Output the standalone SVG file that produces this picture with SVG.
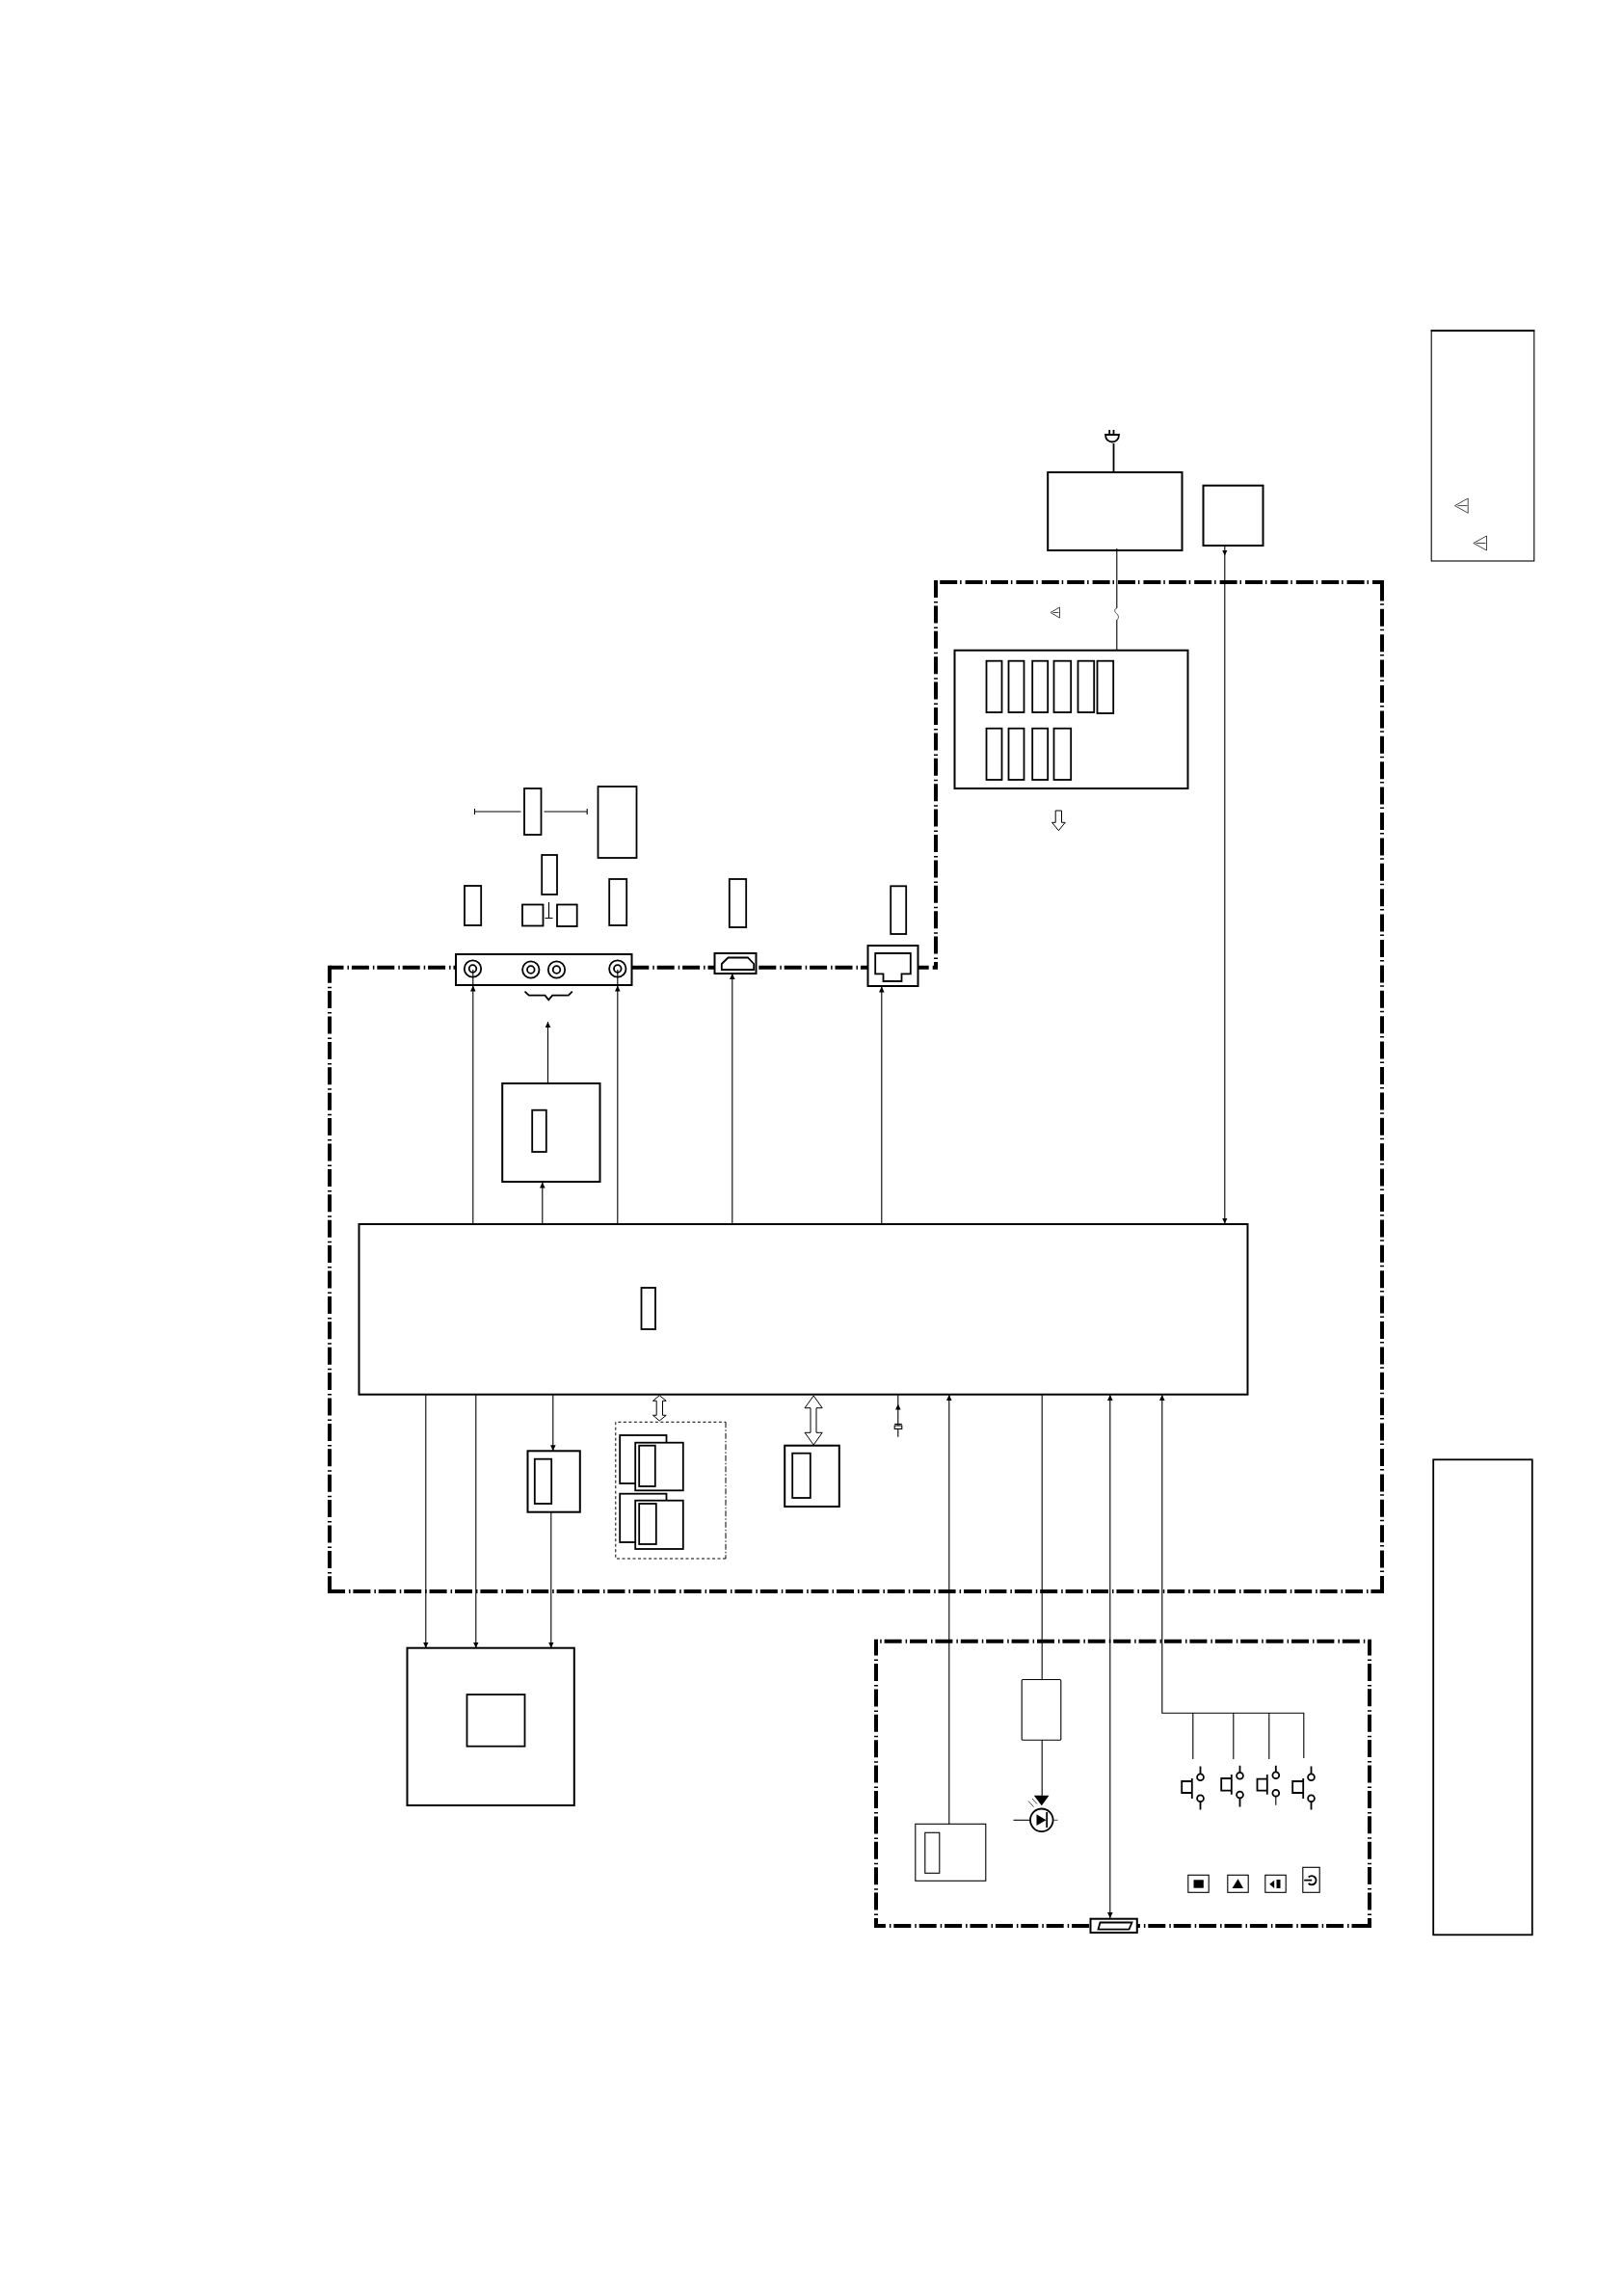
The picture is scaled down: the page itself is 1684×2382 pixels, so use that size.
<svg xmlns="http://www.w3.org/2000/svg" width="1684" height="2382" viewBox="0 0 1684 2382">
<style>
.b{fill:#fff;stroke:#000;stroke-width:2}
.s{fill:#fff;stroke:#000;stroke-width:1.8}
.t{fill:#fff;stroke:#000;stroke-width:1.1}
.n{fill:none;stroke:#000;stroke-width:1.8}
.f{fill:#000;stroke:none}
.h{fill:#fff;stroke:#000;stroke-width:1}
.d{fill:none;stroke:#000;stroke-width:4;stroke-dasharray:18 4 1.5 2.9}
.c{fill:none;stroke:#000;stroke-width:1.1}
.a{marker-end:url(#ah)}
.m{marker-mid:url(#ah)}
.g{fill:none;stroke:#333;stroke-width:.9}
</style>
<defs>
<marker id="ah" markerUnits="userSpaceOnUse" markerWidth="6" markerHeight="6" viewBox="0 0 6 6" refX="6" refY="3" orient="auto"><path d="M0,0.2 L6,3 L0,5.8z"/></marker>
<marker id="ar" markerUnits="userSpaceOnUse" markerWidth="6" markerHeight="6" viewBox="0 0 6 6" refX="0" refY="3" orient="auto"><path d="M6,0.2 L0,3 L6,5.8z"/></marker>
</defs>
<rect width="1684" height="2382" fill="#fff"/>
<g id="boundary-main">
<path class="d" d="M342,1003.7 H971" stroke-dashoffset="3.5"/>
<path class="d" d="M342,1001.7 V1651"/>
<path class="d" d="M340,1651 H1436"/>
<path class="d" d="M1434,1653 V604"/>
<path class="d" d="M1436,604 H971" stroke-dashoffset="6"/>
<path class="d" d="M971,602 V1005.7" stroke-dashoffset="0"/>
</g>
<g id="boundary-front">
<path class="d" d="M909,1702.7 H1423" stroke-dashoffset="17.8"/>
<path class="d" d="M909,1700.7 V2000" stroke-dashoffset="1.1"/>
<path class="d" d="M907,1998 H1423" stroke-dashoffset="6.1"/>
<path class="d" d="M1421,1702.7 V2000" stroke-dashoffset="3.2"/>
</g>
<g id="legend-top">
<rect class="t" x="1485.2" y="343" width="106.6" height="239"/>
<path d="M1484.7,343 H1592.3" stroke="#000" stroke-width="2" fill="none"/>
<path class="g" d="M1509.5,524.6 L1523.2,517 V532.3z M1512.5,524.6 H1522.5"/>
<path class="g" d="M1528.8,563.5 L1542.5,556 V571z M1531.5,563.5 H1541.5"/>
</g>
<g id="legend-bottom"><rect class="s" x="1487.2" y="1514.3" width="102.6" height="493" stroke-width="1.5"/></g>
<g id="plug"><path class="n" d="M1147,451 H1161 C1161,461 1147,461 1147,451z M1151.2,446 V451 M1155.5,446 V451" stroke-width="2"/></g>
<g id="power-box"><rect class="b" x="1087.2" y="490" width="139.3" height="81"/></g>
<g id="standby-box"><rect class="b" x="1248.5" y="503.7" width="62" height="62.3"/></g>
<g id="warning-mark"><path class="g" d="M1090,635.5 L1099.5,630 V641z M1092.5,635.5 H1098.5"/></g>
<g id="psu-board">
<rect class="b" x="990.5" y="674.7" width="242" height="143.3"/>
<rect class="s" x="1023.5" y="685.7" width="16" height="53.3"/>
<rect class="s" x="1046.5" y="685.7" width="16" height="53.3"/>
<rect class="s" x="1071.2" y="685.7" width="16" height="53.3"/>
<rect class="s" x="1093.5" y="685.7" width="17.7" height="53.3"/>
<rect class="s" x="1118.5" y="685.7" width="16.7" height="53.3"/>
<rect class="s" x="1138.5" y="685.7" width="16.7" height="54.3"/>
<rect class="s" x="1023.5" y="755.7" width="16" height="53.3"/>
<rect class="s" x="1046.5" y="755.7" width="16" height="53.3"/>
<rect class="s" x="1071.2" y="755.7" width="16" height="53.3"/>
<rect class="s" x="1093.5" y="755.7" width="17.7" height="53.3"/>
</g>
<g id="psu-output-arrow"><path class="h" d="M1095.2,841 H1101.5 V853.3 H1105.2 L1098.4,861.7 L1091.5,853.3 H1095.2z"/></g>
<g id="antenna-labels">
<rect class="s" x="544" y="818" width="17.5" height="48"/>
<rect class="s" x="620.5" y="816" width="40" height="74"/>
<path class="c" d="M492.5,842 H540.5 M492.5,839 V845 M564.5,842 H609.2 M609.2,839 V845"/>
<rect class="s" x="562.2" y="887" width="15.8" height="41"/>
<rect class="s" x="482" y="919" width="17.2" height="41"/>
<rect class="s" x="542" y="938.5" width="21.5" height="22"/>
<rect class="s" x="578" y="938.5" width="20.7" height="22.5"/>
<path class="c" d="M569.5,936 V952.5 M565.5,952.5 H573.5"/>
<rect class="s" x="632.2" y="912" width="18" height="48"/>
<rect class="s" x="756.8" y="912" width="17.4" height="50"/>
<rect class="s" x="924.2" y="919.3" width="16" height="49.7"/>
</g>
<g id="connector-strip">
<rect class="b" x="473" y="990" width="182.5" height="32"/>
<circle class="n" cx="490.5" cy="1005" r="8.7"/><circle class="n" cx="490.5" cy="1005" r="3.8"/>
<circle class="n" cx="550.8" cy="1006" r="8.7"/><circle class="n" cx="550.8" cy="1006" r="3.8"/>
<circle class="n" cx="577.5" cy="1006" r="8.7"/><circle class="n" cx="577.5" cy="1006" r="3.8"/>
<circle class="n" cx="640.8" cy="1005" r="8.7"/><circle class="n" cx="640.8" cy="1005" r="3.8"/>
</g>
<g id="brace"><path class="n" d="M544.5,1028.7 L548.8,1032.7 H565.5 L569.2,1037.3 L573.2,1032.7 H589.8 L593.8,1028.7" stroke-width="1.3"/></g>
<g id="hdmi-port">
<rect class="b" x="741.5" y="989" width="43" height="21"/>
<path class="n" d="M748.8,1000 L755.5,993.5 H776 L782.2,1000 V1006 H748.8z"/>
</g>
<g id="rj45-port">
<rect class="b" x="900.5" y="981" width="52" height="42"/>
<path class="s" d="M908.2,989 H944.8 V1010.3 H935.5 V1018 H916.5 V1010.3 H908.2z"/>
</g>
<g id="tuner-box">
<rect class="b" x="521.2" y="1124" width="101.3" height="102"/>
<rect class="s" x="552.2" y="1151.7" width="14.6" height="43.3"/>
</g>
<g id="main-board">
<rect class="b" x="372.5" y="1270" width="922" height="176.7"/>
<rect class="s" x="665.5" y="1336" width="14.5" height="43"/>
</g>
<g id="eeprom-box">
<rect class="b" x="547.5" y="1505.3" width="54.3" height="63.4"/>
<rect class="s" x="554.8" y="1513.7" width="17.4" height="46.3"/>
</g>
<g id="memory-group">
<path fill="none" stroke="#000" stroke-width="1" stroke-dasharray="3 2.5" d="M753,1617 H638.8 V1475.3 H753"/>
<path fill="none" stroke="#000" stroke-width="1" stroke-dasharray="6 2 1.5 2" d="M753,1475.3 V1617"/>
<rect class="s" x="643.2" y="1489" width="48.3" height="50"/>
<rect class="s" x="659.2" y="1496.7" width="49.6" height="49.6"/>
<rect class="s" x="663.2" y="1499.7" width="16.6" height="42.3"/>
<rect class="s" x="643.2" y="1549.7" width="48.3" height="50.3"/>
<rect class="s" x="659.2" y="1556.7" width="49.6" height="50.3"/>
<rect class="s" x="663.2" y="1560" width="17.6" height="42"/>
</g>
<g id="memory-bus-arrow"><path class="h" d="M684.3,1447.7 L691.2,1453.3 H687.5 V1468.3 H691.2 L684.3,1474 L677.5,1468.3 H681.2 V1453.3 H677.5z"/></g>
<g id="flash-box">
<rect class="b" x="814.2" y="1499.7" width="56.6" height="63.3"/>
<rect class="s" x="822.2" y="1507.7" width="18.6" height="46.3"/>
</g>
<g id="flash-bus-arrow"><path class="h" d="M844.2,1448 L853.2,1460.7 H847 V1486.3 H853.2 L844.2,1499 L835,1486.3 H841 V1460.7 H835z"/></g>
<g id="crystal"><rect class="t" x="928.2" y="1479" width="7.6" height="3.4"/><path class="c" d="M928.2,1477.4 H935.8"/></g>
<g id="panel-box">
<rect class="b" x="422.5" y="1709.7" width="173.3" height="163.3"/>
<rect class="s" x="484.5" y="1758" width="60" height="53.7"/>
</g>
<g id="ir-receiver">
<rect class="t" x="949.8" y="1892.3" width="73" height="59"/>
<rect class="t" x="959.8" y="1901.3" width="15" height="42"/>
</g>
<g id="led-driver"><rect class="t" x="1060.2" y="1742.5" width="40.6" height="62.8" rx="1"/></g>
<g id="led">
<path class="f" d="M1072.8,1862.7 H1088.5 L1080.8,1873.3z"/>
<circle class="n" cx="1080.8" cy="1888.3" r="11.8" stroke-width="2"/>
<path class="f" d="M1075.5,1882.3 L1085.5,1888.3 L1075.5,1894z"/>
<path class="n" d="M1086.2,1880 V1896"/>
<path class="c" d="M1051.5,1888.3 H1069"/>
<path class="g" d="M1092.5,1888.3 H1097.5 M1067,1868.5 L1072.5,1874.5 M1071,1866 L1076,1871.5"/>
</g>
<g id="usb-port">
<rect class="b" x="1131.5" y="1990.7" width="48.3" height="14.3"/>
<path class="s" d="M1141.5,1994.5 H1174.5 L1171.5,2001.7 H1139.5z"/>
</g>
<g id="switch-1">
<circle class="n" cx="1245.5" cy="1843.7" r="3.4"/><circle class="n" cx="1245.5" cy="1865.7" r="3.4"/>
<path class="n" d="M1245.5,1832.5 V1840.3 M1245.5,1869 V1877.5 M1236.8,1845 V1866 M1236.8,1848 H1226.2 V1860 H1236.8"/>
</g>
<g id="switch-2">
<circle class="n" cx="1286.5" cy="1842.3" r="3.4"/><circle class="n" cx="1286.5" cy="1862" r="3.4"/>
<path class="n" d="M1286.5,1831.7 V1839 M1286.5,1865.4 V1874.5 M1277.8,1841 V1861.7 M1277.8,1845 H1267.2 V1857.7 H1277.8"/>
</g>
<g id="switch-3">
<circle class="n" cx="1323.8" cy="1841.7" r="3.4"/><circle class="n" cx="1323.8" cy="1860.3" r="3.4"/>
<path class="n" d="M1323.8,1831.7 V1838.3 M1314.8,1841 V1861.7 M1314.8,1845.7 H1304.5 V1857.7 H1314.8"/>
<path class="c" d="M1323.8,1863.7 V1872.7"/>
</g>
<g id="switch-4">
<circle class="n" cx="1360.5" cy="1843.7" r="3.4"/><circle class="n" cx="1360.5" cy="1865.7" r="3.4"/>
<path class="n" d="M1360.5,1832.5 V1840.3 M1360.5,1869 V1877.5 M1352.2,1845 V1866 M1352.2,1848 H1341.2 V1860 H1352.2"/>
</g>
<g id="icon-stop"><rect class="t" x="1232.8" y="1945.3" width="21.4" height="18"/><rect class="f" x="1238.5" y="1950.3" width="10.3" height="8.4"/></g>
<g id="icon-up"><rect class="t" x="1273.8" y="1945.3" width="21.4" height="18"/><path class="f" d="M1284.5,1949.3 L1290,1959 H1278.5z"/></g>
<g id="icon-left"><rect class="t" x="1312.8" y="1945.3" width="21.4" height="18"/><path class="f" d="M1317.2,1954.8 L1322.2,1950.7 V1959z"/><rect class="f" x="1324.5" y="1950" width="4" height="9"/></g>
<g id="icon-source"><rect class="t" x="1351.8" y="1937.3" width="17.4" height="26"/><path class="n" d="M1353.2,1950.7 H1361.2 M1357.7,1947.5 A4.6,4.6 0 1 1 1357.7,1954"/></g>
<g id="connectors">
<polyline class="c m" points="490.8,1270 490.8,1022.5 490.8,1006"/>
<polyline class="c m" points="640.8,1270 640.8,1022.5 640.8,1006"/>
<line class="c a" x1="568.5" y1="1124" x2="568.5" y2="1060"/>
<line class="c a" x1="562.8" y1="1270" x2="562.8" y2="1226.5"/>
<line class="c a" x1="759.8" y1="1270" x2="759.8" y2="1010"/>
<line class="c a" x1="914.8" y1="1270" x2="914.8" y2="1023.5"/>
<line class="n" x1="1155.5" y1="460" x2="1155.5" y2="490"/>
<line class="c" x1="1158.8" y1="569" x2="1158.8" y2="631"/>
<line class="c" x1="1158.8" y1="643" x2="1158.8" y2="674.7"/>
<path class="g" d="M1158.8,631 C1155.5,632 1156.5,635 1158.5,636.5 C1160.5,638 1161.5,641.5 1158.8,643"/>
<polyline class="c a m" points="1270.8,566 1270.8,576.5 1270.8,1269.5"/>
<line class="c a" x1="441.8" y1="1446.7" x2="441.8" y2="1709.7"/>
<line class="c a" x1="493.8" y1="1446.7" x2="493.8" y2="1709.7"/>
<line class="c a" x1="573.8" y1="1446.7" x2="573.8" y2="1505.3"/>
<line class="c a" x1="571.8" y1="1568.7" x2="571.8" y2="1709.7"/>
<polyline class="c m" points="931.8,1479 931.8,1456.5 931.8,1447"/>
<line class="c" x1="931.8" y1="1482.4" x2="931.8" y2="1490.7"/>
<line class="c a" x1="984.8" y1="1892.3" x2="984.8" y2="1447"/>
<line class="c" x1="1081.2" y1="1446.7" x2="1081.2" y2="1742.5"/>
<line class="c" x1="1081.2" y1="1805.3" x2="1081.2" y2="1863"/>
<path class="c" d="M1151.8,1700 V1990" marker-end="url(#ah)"/>
<line class="c a" x1="1151.8" y1="1700" x2="1151.8" y2="1447"/>
<path class="c" d="M1205.8,1447 V1777.3 H1352.8 V1824 M1237.8,1777.3 V1825 M1279.8,1777.3 V1825 M1316.8,1777.3 V1825" marker-start="url(#ar)"/>
</g>
</svg>
